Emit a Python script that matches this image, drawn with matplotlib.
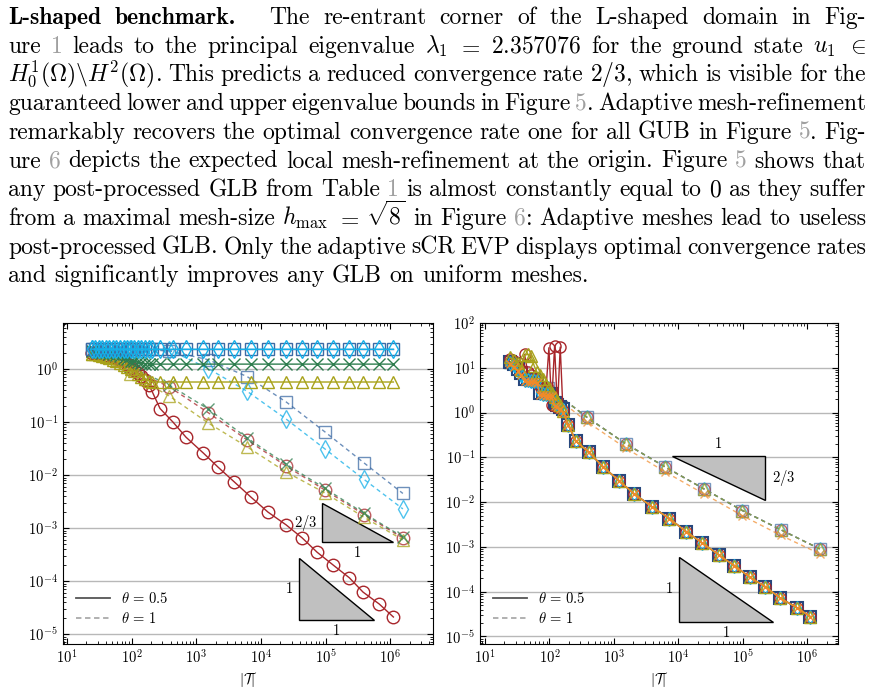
import matplotlib
matplotlib.use("Agg")
import matplotlib.pyplot as plt
from matplotlib.lines import Line2D
from matplotlib.patches import Polygon
from matplotlib.ticker import LogLocator, NullFormatter

plt.rcParams.update({
    'font.family': 'serif',
    'font.serif': ['cmr10'],
    'mathtext.fontset': 'cm',
    'axes.formatter.use_mathtext': True,
    'axes.unicode_minus': False,
})

# ---- paragraph above the plots ('#..#' marks grey cross references) ----
para_lines = [
    r"L-shaped benchmark. The re-entrant corner of the L-shaped domain in Fig-",
    r"ure #1# leads to the principal eigenvalue $\lambda_1$ $=$ $2.357076$ for the ground state $u_1$ $\in$",
    r"$H^1_0(\Omega)\backslash H^2(\Omega)$. This predicts a reduced convergence rate $2/3$, which is visible for the",
    r"guaranteed lower and upper eigenvalue bounds in Figure #5#. Adaptive mesh-refinement",
    r"remarkably recovers the optimal convergence rate one for all GUB in Figure #5#. Fig-",
    r"ure #6# depicts the expected local mesh-refinement at the origin. Figure #5# shows that",
    r"any post-processed GLB from Table #1# is almost constantly equal to $0$ as they suffer",
    r"from a maximal mesh-size $h_{\max}$ $=$ $\sqrt{8}$ in Figure #6#: Adaptive meshes lead to useless",
    r"post-processed GLB. Only the adaptive sCR EVP displays optimal convergence rates",
    r"and significantly improves any GLB on uniform meshes.",
]

# ---- left panel: guaranteed lower bounds ----
left_adapt_x = [24, 27, 31, 35, 40, 45, 51, 58, 66, 75, 85, 97, 110, 125, 142, 163, 185,
                209, 275, 436, 692, 1288, 2188, 3890, 7079, 12882, 24547, 43652, 74131,
                131826, 234423, 380189, 676083, 1122018]
left_adapt_red = [2.05, 2.0, 1.95, 1.9, 1.85, 1.8, 1.7, 1.6, 1.5, 1.4, 1.25, 1.1, 0.95, 0.85, 0.75, 0.62, 0.5,
                  0.37, 0.18, 0.1, 0.052, 0.026, 0.014, 0.0074, 0.0038, 0.002, 0.00115, 0.00065, 0.00035,
                  0.0002, 0.000115, 6.2e-5, 3.7e-5, 2.1e-5]
left_adapt_olive = [1.95, 1.9, 1.85, 1.8, 1.7, 1.6, 1.5, 1.4, 1.3, 1.2, 1.1, 1.0, 0.9, 0.8, 0.72, 0.65, 0.6,
                    0.57, 0.57, 0.57, 0.57, 0.57, 0.57, 0.57, 0.57, 0.57, 0.57, 0.57, 0.57,
                    0.57, 0.57, 0.57, 0.57, 0.57]
left_adapt_green = [2.2, 2.15, 2.1, 2.05, 2.0, 1.95, 1.9, 1.85, 1.75, 1.65, 1.55, 1.45, 1.4, 1.35, 1.3, 1.27, 1.25,
                    1.24, 1.24, 1.24, 1.24, 1.24, 1.24, 1.24, 1.24, 1.24, 1.24, 1.24, 1.24,
                    1.24, 1.24, 1.24, 1.24, 1.24]
left_adapt_blue = [2.36, 2.36, 2.36, 2.36, 2.36, 2.36, 2.36, 2.36, 2.36, 2.36, 2.36, 2.36, 2.36, 2.36, 2.36, 2.36, 2.36,
                   2.36, 2.36, 2.36, 2.36, 2.36, 2.36, 2.36, 2.36, 2.36, 2.36, 2.36, 2.36,
                   2.36, 2.36, 2.36, 2.36, 2.36]
left_adapt_cyan = [2.38, 2.37, 2.36, 2.36, 2.36, 2.36, 2.36, 2.36, 2.36, 2.36, 2.36, 2.36, 2.36, 2.36, 2.36, 2.36, 2.36,
                   2.36, 2.36, 2.36, 2.36, 2.36, 2.36, 2.36, 2.36, 2.36, 2.36, 2.36, 2.36,
                   2.36, 2.36, 2.36, 2.36, 2.36]

unif_x = [24, 96, 384, 1536, 6144, 24576, 98304, 393216, 1572864]
left_unif_red = [2.05, 1.0, 0.46, 0.15, 0.046, 0.0148, 0.0052, 0.0018, 0.00065]
left_unif_olive = [1.95, 0.8, 0.31, 0.096, 0.034, 0.0114, 0.0046, 0.0016, 0.0006]
left_unif_green = [2.2, 1.1, 0.5, 0.176, 0.05, 0.016, 0.0056, 0.0019, 0.00068]
left_unif_blue = [2.36, 2.36, 2.2, 1.5, 0.72, 0.24, 0.065, 0.017, 0.0045]
left_unif_cyan = [2.36, 2.36, 2.3, 1.02, 0.38, 0.114, 0.031, 0.0083, 0.0023]

# ---- right panel: guaranteed upper bounds ----
right_adapt_x = [24, 28, 32, 36, 41, 46, 52, 58, 64, 71, 79, 88, 98, 108, 120, 133, 147, 162,
                 195, 257, 407, 676, 1202, 2042, 3890, 7244, 13183, 23442, 42658, 74131,
                 128825, 223872, 380189, 691831, 1122018]
right_adapt_tail = [0.54, 0.23, 0.13, 0.062, 0.030, 0.0155, 0.0079, 0.0043, 0.0022, 0.00123, 0.00066,
                    0.00038, 0.00021, 0.000129, 7.2e-5, 4.4e-5, 2.75e-5]
right_adapt_blue = [13.5, 12, 9.5, 7.5, 5.6, 5.5, 5.4, 5.3, 5.2, 2.8, 2.75, 2.7, 2.65, 2.6, 1.6, 1.5, 1.35, 1.2] + right_adapt_tail
right_adapt_cyan = [13.0, 11.5, 9.0, 7.0, 5.4, 5.3, 5.2, 5.1, 5.0, 2.7, 2.65, 2.6, 2.55, 2.5, 1.55, 1.45, 1.3, 1.15] + right_adapt_tail
right_adapt_red = [16, 14.5, 11, 9, 20, 8, 7, 5.5, 5, 4, 3.5, 3.0, 28, 1.5, 30, 1.3, 29, 1.1] + right_adapt_tail
right_adapt_olive = [17, 15, 13, 9, 19, 20, 18, 11, 8, 7, 5.5, 4.2, 3.5, 2.8, 2.2, 1.8, 1.5, 1.1] + right_adapt_tail
right_adapt_orange = [12, 10.5, 8.5, 6.8, 5.0, 4.9, 4.8, 4.7, 4.6, 2.5, 2.45, 2.4, 2.35, 2.3, 1.4, 1.3, 1.2, 1.0] + right_adapt_tail

right_unif = [13.8, 3.6, 0.78, 0.2, 0.062, 0.02, 0.0065, 0.0024, 0.0009]
right_unif_orange = [12, 3.0, 0.62, 0.16, 0.048, 0.0155, 0.005, 0.0018, 0.0007]

RED, OLIVE, GREEN = '#a8262b', '#a8a21a', '#2e7d4e'
BLUE, NAVY, CYAN, ORANGE = '#3d6ba5', '#27477d', '#14afe8', '#f08a2a'
GREY_REF = '#a0a0a0'

W, H = 874, 691
fig = plt.figure(figsize=(W / 100, H / 100), dpi=100)
renderer = fig.canvas.get_renderer()


def split_tokens(line):
    out, cur, in_math = [], '', False
    for ch in line:
        if ch == '$':
            in_math = not in_math
        if ch == ' ' and not in_math:
            if cur:
                out.append(cur)
            cur = ''
        else:
            cur += ch
    if cur:
        out.append(cur)
    return out


# justified paragraph
FS = 17
x_left, x_right = 8, 866
for i, line in enumerate(para_lines):
    y = 1 - (24 + 28.7 * i) / H
    items = []
    for k, tok in enumerate(split_tokens(line)):
        fam = 'cmb10' if (i == 0 and k < 2) else 'cmr10'
        pieces = []
        for j, s in enumerate(tok.split('#')):
            if not s:
                continue
            t = fig.text(0, y, s, fontsize=FS, va='baseline', fontfamily=fam,
                         color=GREY_REF if j % 2 else 'black')
            pieces.append((t, t.get_window_extent(renderer).width))
        items.append(pieces)
    widths = [sum(w for _, w in p) for p in items]
    weights = [1.0] * (len(items) - 1)
    if i == 0:
        weights[1] = 2.5
    if i < len(para_lines) - 1:
        gap = (x_right - x_left - sum(widths)) / sum(weights)
    else:
        gap = 0.33 * FS * 100 / 72
    x = x_left
    for k, pieces in enumerate(items):
        for t, w in pieces:
            t.set_x(x / W)
            x += w
        if k < len(weights):
            x += gap * weights[k]


def style_axes(ax, xlim, ylim):
    ax.set_xscale('log')
    ax.set_yscale('log')
    ax.set_xlim(*xlim)
    ax.set_ylim(*ylim)
    for axis in (ax.xaxis, ax.yaxis):
        axis.set_major_locator(LogLocator(base=10, numticks=20))
        axis.set_minor_locator(LogLocator(base=10, subs=range(2, 10), numticks=20))
        axis.set_minor_formatter(NullFormatter())
    ax.tick_params(which='both', direction='in', top=True, right=True, labelsize=10.5)
    ax.tick_params(which='major', length=4, width=0.8)
    ax.tick_params(which='minor', length=2.2, width=0.6)
    ax.yaxis.grid(True, which='major', color='#b8b8b8', lw=1.0)
    ax.set_axisbelow(True)
    ax.set_xlabel(r'$|\mathcal{T}|$', fontsize=10.5, labelpad=2)
    handles = [Line2D([], [], color='#555555', lw=1.3),
               Line2D([], [], color='#aaaaaa', lw=1.3, dashes=(3, 2))]
    ax.legend(handles, [r'$\theta\,=\,0.5$', r'$\theta\,=\,1$'], loc='lower left',
              bbox_to_anchor=(0.0, 0.015), frameon=False, fontsize=10.5,
              handlelength=2.3, labelspacing=0.35)


def slope_triangle(ax, x0, y0, decades, slope, label, upper=False):
    x1 = x0 * 10 ** decades
    y1 = y0 / 10 ** (slope * decades)
    if upper:
        pts = [(x0, y0), (x1, y0), (x1, y1)]
    else:
        pts = [(x0, y0), (x0, y1), (x1, y1)]
    ax.add_patch(Polygon(pts, closed=True, facecolor='#c0c0c0', edgecolor='black', lw=1.0, zorder=1.5))
    xm = (x0 * x1) ** 0.5
    ym = (y0 * y1) ** 0.5
    if upper:
        ax.annotate('1', (xm, y0), xytext=(0, 4), textcoords='offset points', ha='center', va='bottom', fontsize=10.5)
        ax.annotate(label, (x1, ym), xytext=(5, 0), textcoords='offset points', ha='left', va='center', fontsize=10.5)
    else:
        ax.annotate('1', (xm, y1), xytext=(0, -3), textcoords='offset points', ha='center', va='top', fontsize=10.5)
        ax.annotate(label, (x0, ym), xytext=(-4, 0), textcoords='offset points', ha='right', va='center', fontsize=10.5)


def draw(ax, x, y, color, marker, ms, dashed=False, mec=None, mew=1.0, alpha=1.0):
    kw = dict(color=color, marker=marker, ms=ms, mfc='none', mec=mec or color, mew=mew, lw=1.0, alpha=alpha)
    if dashed:
        ax.plot(x, y, ls='--', dashes=(3, 2.5), **kw)
    else:
        ax.plot(x, y, ls='-', **kw)


# ---- left panel ----
ax1 = fig.add_axes([63 / W, 1 - 644 / H, 370 / W, 321 / H])
left_series = [
    (left_adapt_red, left_unif_red, RED, 'o', 9),
    (left_adapt_olive, left_unif_olive, OLIVE, '^', 9),
    (left_adapt_green, left_unif_green, GREEN, 'x', 8),
    (left_adapt_blue, left_unif_blue, BLUE, 's', 9),
    (left_adapt_cyan, left_unif_cyan, CYAN, 'd', 9),
]
for adapt, unif, color, marker, ms in left_series:
    draw(ax1, unif_x, unif, color, marker, ms, dashed=True, alpha=0.75)
for adapt, unif, color, marker, ms in left_series:
    draw(ax1, left_adapt_x, adapt, color, marker, ms)
style_axes(ax1, (8.67, 4.6e6), (6.5e-6, 7.4))
slope_triangle(ax1, 10 ** 4.95, 10 ** -2.53, 1.1, 2 / 3, r'$2/3$')
slope_triangle(ax1, 10 ** 4.59, 10 ** -3.57, 1.16, 1.0, '1')

# ---- right panel ----
ax2 = fig.add_axes([480 / W, 1 - 644 / H, 358 / W, 321 / H])
right_series = [
    (right_adapt_blue, right_unif, BLUE, 's', 9, NAVY, 1.5),
    (right_adapt_red, right_unif, RED, 'o', 8, None, 1.0),
    (right_adapt_cyan, right_unif, CYAN, 'd', 7, None, 1.0),
    (right_adapt_olive, right_unif, OLIVE, '^', 8, None, 1.0),
    (right_adapt_orange, right_unif_orange, ORANGE, 'x', 6, None, 1.0),
]
for adapt, unif, color, marker, ms, mec, mew in right_series:
    draw(ax2, unif_x, unif, color, marker, ms, dashed=True, alpha=0.7)
for adapt, unif, color, marker, ms, mec, mew in right_series:
    draw(ax2, right_adapt_x, adapt, color, marker, ms, mec=mec, mew=mew)
style_axes(ax2, (8.36, 3.0e6), (6.8e-6, 100))
slope_triangle(ax2, 10 ** 3.90, 10 ** -0.98, 1.45, 2 / 3, r'$2/3$', upper=True)
slope_triangle(ax2, 10 ** 4.01, 10 ** -3.22, 1.46, 1.0, '1')

fig.savefig('out.png', dpi=100)
